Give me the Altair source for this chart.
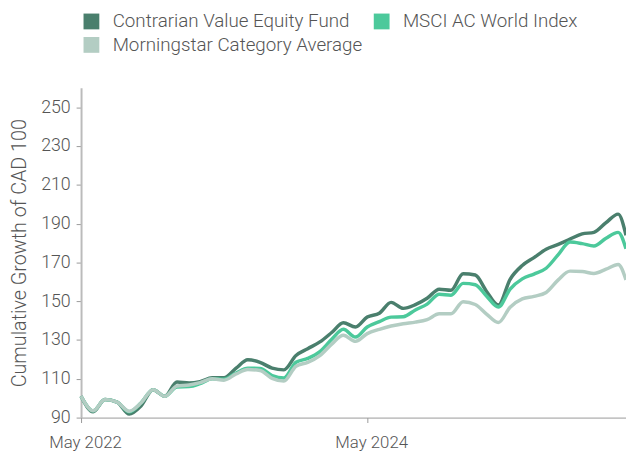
import altair as alt
import pandas as pd

# Dates: monthly from May 2022, last point mid-Feb 2026
months = pd.date_range("2022-05-01", periods=46, freq="MS").strftime("%Y-%m-%d").tolist()
dates = months + ["2026-02-21"]

fund = [101, 93, 99.3, 98, 91.8, 96, 104.4, 101, 108.3, 107.8, 108.5, 110.5, 110.5, 115.5, 119.8, 118.5,
        115.5, 114.6, 122, 125.5, 129, 134, 138.9, 136.7, 141.8, 143.8, 149.4, 146.3, 148.2, 151.5, 156.2,
        155.7, 164.2, 163.5, 155.3, 148, 161.3, 168.4, 172.5, 176.8, 179.3, 182, 184.7, 185.5, 190.5, 194.9, 184]
msci = [101, 93.5, 99.3, 98, 93, 97.5, 104.4, 101, 105.8, 106, 107.5, 110, 109.8, 113, 115.5, 115.3,
        111.7, 110.4, 118.5, 120.5, 124, 130.5, 135.5, 131.5, 136.7, 139.5, 141.8, 142, 145.5, 148.5, 153.6,
        153.1, 159.2, 158.5, 152.8, 147, 156.2, 161.5, 164, 167, 174, 180.5, 179.7, 178.5, 182.5, 185.5, 177]
cat = [101, 93.5, 99.3, 98, 93.3, 97.5, 104.4, 101, 106.3, 106.8, 108, 110, 109.3, 112.5, 114.8, 114.3,
       110.2, 108.8, 116.5, 118.5, 122, 128, 132.4, 129.3, 133.3, 135.5, 137.2, 138.4, 139.2, 140.5, 143.5,
       143.5, 149.7, 148.3, 143.5, 139, 146.9, 151.2, 152.5, 154.5, 161, 165.5, 165.3, 164.3, 166.5, 168.9, 161]

series_names = ["Contrarian Value Equity Fund", "MSCI AC World Index", "Morningstar Category Average"]
series_colors = ["#4a7f6d", "#4cc99b", "#b3cdc3"]
# legend fills column by column: this order gives rows (Fund, MSCI) / (Morningstar)
legend_order = ["Contrarian Value Equity Fund", "Morningstar Category Average", "MSCI AC World Index"]
legend_colors = ["#4a7f6d", "#b3cdc3", "#4cc99b"]

rows = []
for name, vals in zip(series_names, [fund, msci, cat]):
    for d, v in zip(dates, vals):
        rows.append({"date": d, "value": v, "series": name})
df = pd.DataFrame(rows)

FONT = "Roboto"
W = 300
LABEL_COLOR = "#555555"

x_enc = alt.X("date:T",
              scale=alt.Scale(type="utc", domain=[alt.DateTime(year=2022, month=5, date=1, utc=True),
                                                  alt.DateTime(year=2026, month=2, date=21, utc=True)], nice=False),
              axis=alt.Axis(title=None, format="%b %Y",
                            values=[alt.DateTime(year=2022, month=5, date=1, utc=True),
                                    alt.DateTime(year=2024, month=5, date=1, utc=True)],
                            labelFont=FONT, labelFontWeight=W, labelFontSize=17, labelColor=LABEL_COLOR,
                            labelPadding=12, labelFlush=False, labelOffset=4,
                            domainColor="#999999", domainWidth=1, tickColor="#999999", tickSize=5,
                            grid=False))
y_enc = alt.Y("value:Q",
              scale=alt.Scale(domain=[90, 260], nice=False, zero=False),
              axis=alt.Axis(title="Cumulative Growth of CAD 100", values=list(range(90, 251, 20)),
                            labelFont=FONT, labelFontWeight=W, labelFontSize=18, labelColor=LABEL_COLOR,
                            labelPadding=6,
                            titleFont=FONT, titleFontSize=20, titleColor=LABEL_COLOR, titleFontWeight=W,
                            titlePadding=11,
                            domainColor="#bbbbbb", domainWidth=2, tickColor="#999999", tickSize=5,
                            grid=False))
color_scale = alt.Scale(domain=legend_order, range=legend_colors)

lines = alt.Chart(df).mark_line(strokeWidth=3.5, interpolate="monotone").encode(
    x=x_enc, y=y_enc,
    color=alt.Color("series:N", scale=color_scale, legend=None),
)

# invisible squares (size 0) only to give the legend filled square symbols
keys = alt.Chart(df).mark_square(size=0, filled=True).encode(
    x=x_enc, y=y_enc,
    color=alt.Color("series:N", scale=color_scale,
                    legend=alt.Legend(title=None, orient="none", legendX=1, legendY=-77,
                                      columns=2, columnPadding=10, rowPadding=4,
                                      symbolType="square", symbolSize=256, symbolStrokeWidth=0,
                                      symbolOpacity=1,
                                      labelFont=FONT, labelFontWeight=W, labelFontSize=19,
                                      labelColor=LABEL_COLOR,
                                      labelOffset=12, padding=0, labelLimit=400)),
)

chart = alt.layer(lines, keys).resolve_legend(color="independent").properties(
    width=552, height=334,
    padding={"left": 74, "top": 78, "right": 0, "bottom": 34},
    autosize=alt.AutoSizeParams(type="none"),
).configure_view(stroke=None)

chart.save("out.html", embed_options={"renderer": "svg", "actions": False})
